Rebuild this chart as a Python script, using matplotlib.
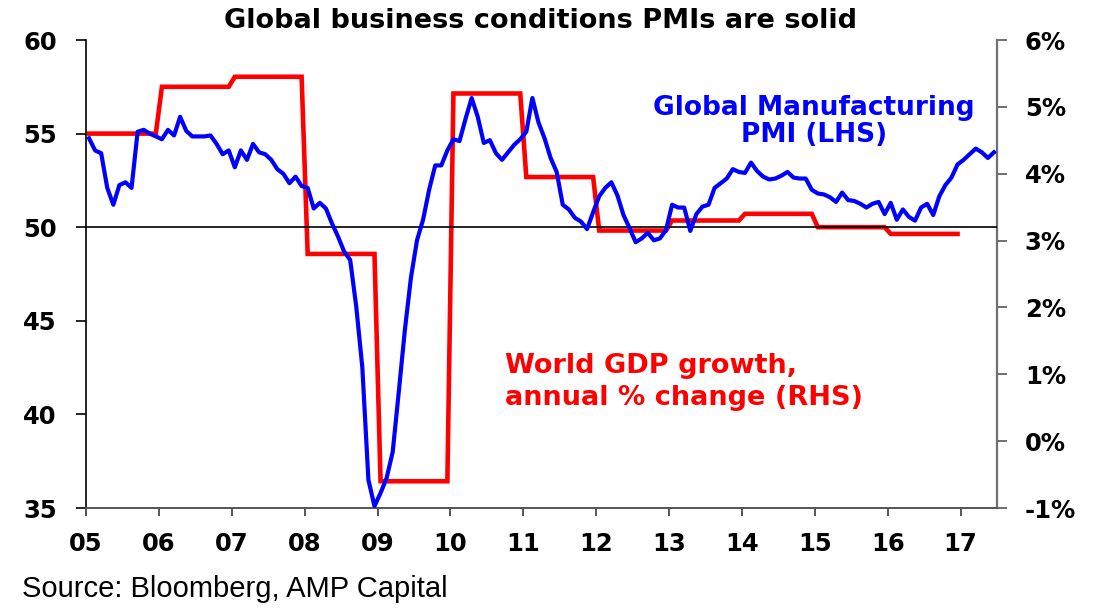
import numpy as np
import matplotlib
matplotlib.use("Agg")
import matplotlib.pyplot as plt

# ---------------- data ----------------
pmi_start_year = 2005
pmi = [54.75, 54.1, 53.95, 52.1, 51.2, 52.25, 52.4, 52.1, 55.1, 55.2, 55.0, 54.85,
       54.7, 55.2, 54.9, 55.9, 55.15, 54.85, 54.85, 54.85, 54.9, 54.45, 53.9, 54.1,
       53.2, 54.1, 53.6, 54.45, 54.0, 53.9, 53.6, 53.1, 52.85, 52.35, 52.7, 52.2,
       52.1, 51.0, 51.3, 51.0, 50.2, 49.5, 48.7, 48.25, 45.75, 42.5, 36.5, 35.1,
       35.8, 36.6, 38.0, 41.2, 44.5, 47.3, 49.3, 50.4, 52.0, 53.3, 53.3, 54.1,
       54.7, 54.6, 55.8, 56.9, 55.9, 54.5, 54.65, 53.95, 53.6, 54.0, 54.4, 54.7,
       55.1, 56.9, 55.6, 54.75, 53.7, 52.95, 51.2, 50.95, 50.5, 50.3, 49.9, 50.8,
       51.65, 52.1, 52.4, 51.7, 50.65, 49.95, 49.2, 49.4, 49.7, 49.3, 49.4, 49.85,
       51.2, 51.05, 51.05, 49.8, 50.7, 51.1, 51.2, 52.1, 52.35, 52.6, 53.1, 52.95,
       52.9, 53.45, 53.0, 52.7, 52.55, 52.6, 52.75, 52.95, 52.65, 52.6, 52.6, 52.0,
       51.8, 51.75, 51.6, 51.35, 51.85, 51.45, 51.4, 51.25, 51.05, 51.25, 51.35, 50.7,
       51.3, 50.4, 50.95, 50.55, 50.35, 51.05, 51.25, 50.65, 51.65, 52.25, 52.65, 53.35,
       53.6, 53.9, 54.2, 54.0, 53.7, 54.0]

gdp_years = [2005, 2006, 2007, 2008, 2009, 2010, 2011, 2012, 2013, 2014, 2015, 2016]
gdp_growth = [4.6, 5.3, 5.45, 2.8, -0.6, 5.2, 3.95, 3.15, 3.3, 3.4, 3.2, 3.1]

x_ticks = list(range(2005, 2018))
x_labels = ["05", "06", "07", "08", "09", "10", "11", "12", "13", "14", "15", "16", "17"]
left_ticks = [35, 40, 45, 50, 55, 60]
right_ticks = [-1, 0, 1, 2, 3, 4, 5, 6]

# ---------------- figure ----------------
plt.rcParams["font.family"] = ["DejaVu Sans"]
plt.rcParams["font.weight"] = "bold"

W, H = 1104, 614
fig = plt.figure(figsize=(W / 100, H / 100), dpi=100)
ax = fig.add_axes([86 / W, 1 - 508 / H, (997 - 86) / W, (508 - 40) / H])
ax2 = ax.twinx()

# month positions (mid-month, decimal years)
x_pmi = pmi_start_year + (np.arange(len(pmi)) + 0.5) / 12
gdp_monthly = np.repeat(gdp_growth, 12)
x_gdp = gdp_years[0] + (np.arange(len(gdp_monthly)) + 0.5) / 12

ax.axhline(50, color="black", lw=1.2, zorder=1)
ax2.plot(x_gdp, gdp_monthly, color="#FF0000", lw=3.3, solid_joinstyle="miter")
ax.plot(x_pmi, pmi, color="#0000FF", lw=3.0, zorder=3)

ax.set_zorder(ax2.get_zorder() + 1)
ax.patch.set_visible(False)

ax.set_xlim(2005, 2017.5)
ax.set_ylim(35, 60)
ax2.set_ylim(-1, 6)

ax.set_xticks(x_ticks)
ax.set_xticklabels(x_labels)
ax.set_yticks(left_ticks)
ax.set_yticklabels([str(v) for v in left_ticks])
ax2.set_yticks(right_ticks)
ax2.set_yticklabels([f"{v}%" for v in right_ticks])

for s in ["top", "right"]:
    ax.spines[s].set_visible(False)
for s in ["top", "left", "bottom"]:
    ax2.spines[s].set_visible(False)
ax.spines["left"].set_color("black")
ax.spines["left"].set_linewidth(1.2)
ax.spines["bottom"].set_color("#555555")
ax.spines["bottom"].set_linewidth(1.4)
ax2.spines["right"].set_color("#707070")
ax2.spines["right"].set_linewidth(1.6)

ax.tick_params(axis="y", direction="out", length=7, width=1.2, color="black",
               labelsize=17.5, pad=14)
ax.tick_params(axis="x", direction="out", length=6, width=1.4, color="#555555",
               labelsize=17.5, pad=11)
ax2.tick_params(axis="y", direction="out", length=7, width=1.4, color="#707070",
                labelsize=17.5, pad=13)

# ---------------- texts ----------------
fig.text(541 / W, 1 - 27.5 / H, "Global business conditions PMIs are solid",
         ha="center", va="baseline", fontsize=19.5, fontweight="bold")

fig.text(814 / W, 1 - 115 / H, "Global Manufacturing", color="#0000FF",
         ha="center", va="baseline", fontsize=19, fontweight="bold")
fig.text(814 / W, 1 - 142 / H, "PMI (LHS)", color="#0000FF",
         ha="center", va="baseline", fontsize=19, fontweight="bold")

fig.text(505 / W, 1 - 373 / H, "World GDP growth,", color="#FF0000",
         ha="left", va="baseline", fontsize=19.5, fontweight="bold")
fig.text(505 / W, 1 - 405 / H, "annual % change (RHS)", color="#FF0000",
         ha="left", va="baseline", fontsize=19.5, fontweight="bold")

fig.text(22 / W, 1 - 597 / H, "Source: Bloomberg, AMP Capital",
         family=["Liberation Sans", "DejaVu Sans"], fontweight="normal",
         ha="left", va="baseline", fontsize=21)

fig.savefig("out.png", dpi=100, facecolor="white")
